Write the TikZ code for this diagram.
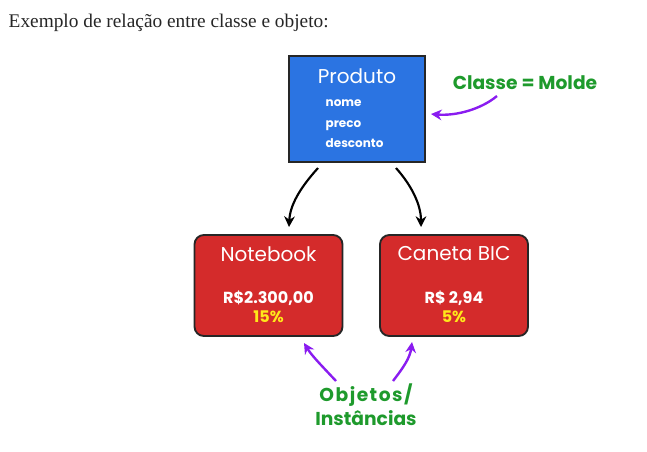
\documentclass[tikz,border=0pt]{standalone}
\usepackage{fontspec}
\setmainfont{Liberation Serif}
\newfontfamily\handfont{Poppins}
\usetikzlibrary{arrows.meta}
\definecolor{boxblue}{HTML}{2B74E2}
\definecolor{boxred}{HTML}{D42B2B}
\definecolor{lblgreen}{HTML}{1E9A2C}
\definecolor{arrpurple}{HTML}{8A1CF0}
\definecolor{pctyellow}{HTML}{FFE81A}
\tikzset{
  classbox/.style={draw=black!85, line width=1.4pt, fill=boxblue, minimum width=136*0.75pt, minimum height=106*0.75pt, inner sep=0pt},
  objbox/.style={draw=black!85, line width=1.4pt, fill=boxred, rounded corners=7pt, minimum width=148*0.75pt, minimum height=101*0.75pt, inner sep=0pt},
  wtitle/.style={text=white, font=\handfont\fontsize{15}{17}\selectfont},
  wattr/.style={text=white, font=\handfont\fontsize{9}{11}\selectfont\bfseries, anchor=west, text height=1.6ex, text depth=0.4ex},
  wprice/.style={text=white, font=\handfont\fontsize{12}{14}\selectfont\bfseries},
  wpct/.style={text=pctyellow, font=\handfont\fontsize{12}{14}\selectfont\bfseries},
  glabel/.style={text=lblgreen, font=\handfont\fontsize{14}{16}\selectfont\bfseries},
  blkarrow/.style={draw=black, line width=1.6pt, -{Stealth[length=8pt,width=8pt]}},
  purarrow/.style={draw=arrpurple, line width=1.8pt, -{Stealth[length=8pt,width=8pt]}},
}
\begin{document}
\begin{tikzpicture}[x=0.75pt,y=-0.75pt]
\useasboundingbox (0,0) rectangle (647,451);
\node[anchor=west, font=\fontsize{14.5}{16}\selectfont, text=black!85] (title) at (4,23) {Exemplo de relação entre classe e objeto:};
% class box
\node[classbox] (prod) at (357,109) {};
\node[wtitle] (prodname) at (357,76) {Produto};
\node[wattr] (a1) at (321,103) {nome};
\node[wattr] (a2) at (321,124) {preco};
\node[wattr] (a3) at (321,144) {desconto};
% object boxes
\node[objbox] (nb) at (268.5,285.5) {};
\node[objbox] (cb) at (454,285.5) {};
\node[wtitle] (nbname) at (268.5,254) {Notebook};
\node[wtitle] (cbname) at (454,254) {Caneta BIC};
\node[wprice] (nbprice) at (268.5,298) {R\$2.300,00};
\node[wpct] (nbpct) at (268.5,317) {15\%};
\node[wprice] (cbprice) at (454,298) {R\$ 2,94};
\node[wpct] (cbpct) at (454,317) {5\%};
% labels
\node[glabel] (classe) at (525,83) {Classe = Molde};
\node[glabel, font=\handfont\fontsize{14}{16}\selectfont\bfseries\addfontfeature{LetterSpace=8}] (obj1) at (366,395) {Objetos/};
\node[glabel] (obj2) at (366,418) {Instâncias};
% arrows
\coordinate (bl) at (318,168);
\coordinate (br) at (396,168);
\draw[blkarrow] (bl) .. controls (300,188) and (290,205) .. (289,227);
\draw[blkarrow] (br) .. controls (412,186) and (421,205) .. (421,227);
\coordinate (cs) at (497,96);
\draw[purarrow] (cs) .. controls (480,110) and (455,116) .. (431,114);
\coordinate (o1) at (336,381);
\coordinate (o2) at (393,381);
\draw[purarrow] (o1) .. controls (322,366) and (312,356) .. (304,343);
\draw[purarrow] (o2) .. controls (403,368) and (410,358) .. (412,342);
\end{tikzpicture}
\end{document}
